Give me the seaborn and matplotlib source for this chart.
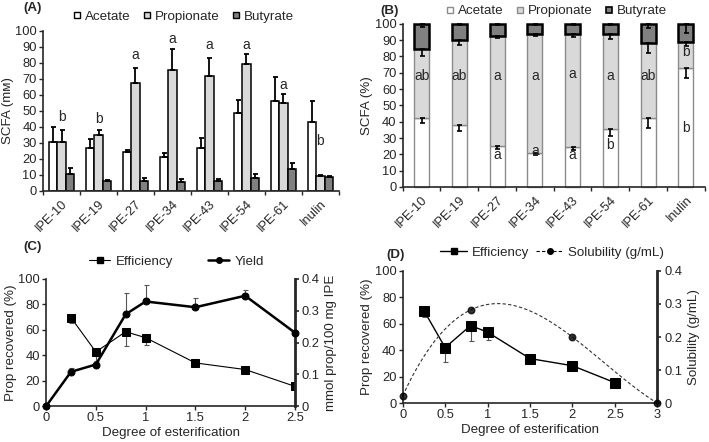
import numpy as np
import pandas as pd
import matplotlib
matplotlib.use("Agg")
import matplotlib.pyplot as plt
import seaborn as sns
from matplotlib.lines import Line2D
from matplotlib.ticker import MultipleLocator, FormatStrFormatter, FixedLocator

sns.set_style("ticks")
plt.rcParams["font.family"] = ["Liberation Sans", "DejaVu Sans"]
FS = 9.6
plt.rcParams["font.size"] = FS
plt.rcParams["xtick.labelsize"] = 9.3
plt.rcParams["ytick.labelsize"] = 9.3

# ---------------- data ----------------
categories = ["IPE-10", "IPE-19", "IPE-27", "IPE-34", "IPE-43", "IPE-54", "IPE-61", "Inulin"]
acids = ["Acetate", "Propionate", "Butyrate"]

# Panel A: SCFA concentration (mM), mean and upper error
acetate_mm = [30.8, 26.7, 24.2, 21.5, 27.0, 49.0, 56.0, 43.3]
acetate_mm_err = [9.4, 5.8, 1.4, 2.5, 6.3, 7.9, 15.5, 13.2]
propionate_mm = [30.4, 35.0, 67.3, 75.6, 72.0, 79.4, 55.2, 9.3]
propionate_mm_err = [7.7, 3.1, 9.7, 13.4, 11.3, 6.2, 5.2, 0.6]
butyrate_mm = [10.8, 6.4, 6.4, 5.8, 6.0, 8.3, 13.7, 8.8]
butyrate_mm_err = [3.4, 0.5, 1.5, 1.5, 1.3, 2.1, 3.6, 0.8]
letters_a = ["b", "b", "a", "a", "a", "a", "a", "b"]
letters_a_y = [46, 45, 85, 95, 91, 91, 66, 31]

# Panel B: SCFA proportions (%), lower error
acetate_pct = [42.1, 38.0, 25.2, 21.0, 24.7, 35.4, 42.1, 72.8]
acetate_pct_err = [3.1, 3.5, 1.9, 1.5, 1.8, 4.1, 6.1, 6.1]
propionate_pct = [42.6, 52.2, 67.6, 72.9, 69.2, 58.3, 46.1, 16.3]
propionate_pct_err = [4.3, 3.1, 1.6, 1.5, 1.8, 3.1, 6.2, 2.6]
butyrate_pct = [15.3, 9.8, 7.2, 6.1, 6.1, 6.3, 11.8, 10.9]
butyrate_pct_err = [2.0, 1.0, 1.0, 0.5, 0.5, 1.0, 2.5, 5.7]
letters_b_prop = ["ab", "ab", "a", "a", "a", "a", "ab", "b"]
letters_b_prop_y = [68, 68, 68, 68, 69, 68, 68, 83]
letters_b_acet = ["", "", "a", "a", "a", "b", "", "b"]
letters_b_acet_y = [0, 0, 19.6, 22.3, 19.6, 25.8, 0, 36]

# Panel C
des_eff = [0.25, 0.5, 0.8, 1.0, 1.5, 2.0, 2.5]
eff_c = [69.6, 42.7, 58.5, 53.8, 34.0, 28.8, 15.6]
eff_c_err = [4.4, 7.0, 11.0, 5.8, 1.5, 0.8, 0.5]
des_yield = [0, 0.25, 0.5, 0.8, 1.0, 1.5, 2.0, 2.5]
yield_c = [0, 0.108, 0.131, 0.289, 0.329, 0.311, 0.347, 0.231]
yield_c_err = [0, 0.012, 0.004, 0.066, 0.051, 0.028, 0.017, 0.004]

# Panel D
eff_d = [70.0, 42.0, 58.7, 53.7, 33.7, 28.3, 15.5]
eff_d_err = [4.5, 10.6, 11.4, 5.8, 2.2, 0.8, 0.5]
sol_x = [0, 0.8, 2.0, 3.0]
sol_y = [0.022, 0.282, 0.200, 0.0]

fill_colors = ["#ffffff", "#d9d9d9", "#808080"]

# ---------------- figure ----------------
fig = plt.figure(figsize=(7.09, 4.42), dpi=100)
axA = fig.add_axes([0.0607, 0.568, 0.478 - 0.0607, 0.930 - 0.568])
axB = fig.add_axes([0.568, 0.577, 0.994 - 0.568, 0.946 - 0.577])
axC = fig.add_axes([0.065, 0.081, 0.416 - 0.065, 0.369 - 0.081])
axD = fig.add_axes([0.568, 0.088, 0.927 - 0.568, 0.387 - 0.088])


def style_cat_axis(ax):
    ax.set_xlim(-0.5, len(categories) - 0.5)
    ax.set_ylim(0, 100)
    ax.yaxis.set_major_locator(MultipleLocator(10))
    ax.set_xticks(range(len(categories)))
    ax.set_xticklabels(categories, rotation=45, ha="right", rotation_mode="anchor")
    ax.xaxis.set_minor_locator(FixedLocator(np.arange(-0.5, len(categories), 1.0)))
    ax.tick_params(axis="x", which="major", length=0, pad=5)
    ax.tick_params(axis="x", which="minor", length=3, width=1)
    ax.tick_params(axis="y", length=3, width=1, pad=1.5)
    for s in ["top", "right"]:
        ax.spines[s].set_visible(False)
    for s in ["left", "bottom"]:
        ax.spines[s].set_linewidth(1.2)
    ax.set_xlabel("")


# ---- Panel A ----
dfA = pd.DataFrame({
    "cat": categories * 3,
    "acid": np.repeat(acids, len(categories)),
    "value": acetate_mm + propionate_mm + butyrate_mm,
})
sns.barplot(data=dfA, x="cat", y="value", hue="acid", hue_order=acids,
            palette=fill_colors, edgecolor="black", linewidth=1.1, width=0.68,
            errorbar=None, saturation=1, legend=False, ax=axA)
for cont, mean, err in zip(axA.containers, [acetate_mm, propionate_mm, butyrate_mm],
                           [acetate_mm_err, propionate_mm_err, butyrate_mm_err]):
    xs = [p.get_x() + p.get_width() / 2 for p in cont]
    axA.errorbar(xs, mean, yerr=[np.zeros(len(err)), err], fmt="none", ecolor="black",
                 elinewidth=1.3, capsize=1.8, capthick=1.3, zorder=3)
for i, (t, y) in enumerate(zip(letters_a, letters_a_y)):
    axA.text(i, y, t, ha="center", va="center", fontsize=FS + 0.4)
style_cat_axis(axA)
axA.set_ylabel("SCFA (mᴍ)", labelpad=1)
hA = [Line2D([], [], marker="s", ls="none", markersize=4.5, markerfacecolor=c,
             markeredgecolor="black", markeredgewidth=1) for c in fill_colors]
fig.legend(hA, acids, loc="center", bbox_to_anchor=(0.258, 0.962), ncol=3, frameon=False,
           handletextpad=0.2, columnspacing=0.8, fontsize=FS, handlelength=0.8)

# ---- Panel B (stacked) ----
bottoms_acet = np.zeros(len(categories))
bottoms_prop = np.array(acetate_pct)
bottoms_but = np.array(acetate_pct) + np.array(propionate_pct)
stack = [
    (acetate_pct, bottoms_acet, fill_colors[0], "#8c8c8c", 1.0),
    (propionate_pct, bottoms_prop, fill_colors[1], "#8c8c8c", 1.0),
    (butyrate_pct, bottoms_but, fill_colors[2], "black", 1.8),
]
for vals, bots, fc, ec, lw in stack:
    sns.barplot(x=categories, y=vals, color=fc, edgecolor=ec, linewidth=lw, width=0.4,
                errorbar=None, saturation=1, ax=axB)
    for p, b in zip(axB.containers[-1], bots):
        p.set_y(b)
        p.set_clip_on(False)
tops = [bottoms_prop, bottoms_but, bottoms_but + np.array(butyrate_pct)]
xsB = np.arange(len(categories))
for top, err in zip(tops, [acetate_pct_err, propionate_pct_err, butyrate_pct_err]):
    axB.errorbar(xsB, top, yerr=[err, np.zeros(len(err))], fmt="none", ecolor="black",
                 elinewidth=1.2, capsize=1.8, capthick=1.2, zorder=4, clip_on=False)
for i, (t, y) in enumerate(zip(letters_b_prop, letters_b_prop_y)):
    axB.text(i, y, t, ha="center", va="center", fontsize=FS + 0.4, zorder=5)
for i, (t, y) in enumerate(zip(letters_b_acet, letters_b_acet_y)):
    if t:
        axB.text(i, y, t, ha="center", va="center", fontsize=FS + 0.4, zorder=5)
style_cat_axis(axB)
axB.set_ylabel("SCFA (%)", labelpad=1)
hB = [Line2D([], [], marker="s", ls="none", markersize=4, markerfacecolor=fill_colors[0],
             markeredgecolor="#8c8c8c", markeredgewidth=1),
      Line2D([], [], marker="s", ls="none", markersize=4, markerfacecolor=fill_colors[1],
             markeredgecolor="#8c8c8c", markeredgewidth=1),
      Line2D([], [], marker="s", ls="none", markersize=4.5, markerfacecolor=fill_colors[2],
             markeredgecolor="black", markeredgewidth=1.2)]
fig.legend(hB, acids, loc="center", bbox_to_anchor=(0.784, 0.975), ncol=3, frameon=False,
           handletextpad=0.2, columnspacing=0.8, fontsize=FS, handlelength=0.8)


def style_line_axes(ax, ax2, xmax):
    ax.set_xlim(0, xmax)
    ax.set_ylim(0, 100)
    ax.yaxis.set_major_locator(MultipleLocator(20))
    ax.xaxis.set_major_locator(MultipleLocator(0.5))
    ax.xaxis.set_major_formatter(FormatStrFormatter("%g"))
    ax2.set_ylim(0, 0.4)
    ax2.yaxis.set_major_locator(MultipleLocator(0.1))
    ax2.yaxis.set_major_formatter(FormatStrFormatter("%g"))
    ax.tick_params(length=3, width=1, pad=1.5)
    ax2.tick_params(length=3, width=1.2, pad=2)
    ax.spines["top"].set_visible(False)
    ax.spines["right"].set_visible(False)
    ax2.spines["top"].set_visible(False)
    ax2.spines["left"].set_visible(False)
    ax2.spines["bottom"].set_visible(False)
    ax.spines["left"].set_linewidth(1.2)
    ax.spines["bottom"].set_linewidth(1.2)
    ax2.spines["right"].set_linewidth(2)
    ax.set_xlabel("Degree of esterification", labelpad=2)


# ---- Panel C ----
axC2 = axC.twinx()
axC.errorbar(des_eff, eff_c, yerr=[eff_c_err, np.zeros(len(eff_c_err))], fmt="none",
             ecolor="#555555", elinewidth=0.8, capsize=1.8, capthick=0.8, zorder=2)
sns.lineplot(x=des_eff, y=eff_c, color="black", lw=0.8, marker="s", markersize=6,
             markeredgecolor="black", ax=axC, zorder=3)
axC2.errorbar(des_yield, yield_c, yerr=[np.zeros(len(yield_c_err)), yield_c_err], fmt="none",
              ecolor="#555555", elinewidth=0.8, capsize=1.8, capthick=0.8, zorder=2)
sns.lineplot(x=des_yield, y=yield_c, color="black", lw=1.8, marker="o", markersize=5,
             markeredgecolor="black", ax=axC2, zorder=3, clip_on=False)
style_line_axes(axC, axC2, 2.5)
axC.set_ylabel("Prop recovered (%)", labelpad=1)
axC2.set_ylabel("mmol prop/100 mg IPE", labelpad=4)
hC = [Line2D([], [], color="black", lw=0.8, marker="s", markersize=5),
      Line2D([], [], color="black", lw=1.8, marker="o", markersize=4)]
fig.legend(hC, ["Efficiency", "Yield"], loc="center", bbox_to_anchor=(0.249, 0.408), ncol=2,
           frameon=False, handletextpad=0.4, columnspacing=2.6, fontsize=FS, handlelength=1.6)

# ---- Panel D ----
axD2 = axD.twinx()
axD.errorbar(des_eff, eff_d, yerr=[eff_d_err, np.zeros(len(eff_d_err))], fmt="none",
             ecolor="#555555", elinewidth=0.8, capsize=1.8, capthick=0.8, zorder=2)
sns.lineplot(x=des_eff, y=eff_d, color="black", lw=1.0, marker="s", markersize=7,
             markeredgecolor="black", ax=axD, zorder=3)
sns.regplot(x=sol_x, y=sol_y, order=3, ci=None, ax=axD2, color="black",
            scatter_kws=dict(s=22, clip_on=False, zorder=4),
            line_kws=dict(lw=0.8, ls=(0, (3, 2)), color="#333333"))
style_line_axes(axD, axD2, 3.0)
axD.set_ylabel("Prop recovered (%)", labelpad=1)
axD2.set_ylabel("Solubility (g/mL)", labelpad=4)
hD = [Line2D([], [], color="black", lw=1.0, marker="s", markersize=5),
      Line2D([], [], color="black", lw=0.8, ls=(0, (3, 2)), marker="o", markersize=4)]
fig.legend(hD, ["Efficiency", "Solubility (g/mL)"], loc="center", bbox_to_anchor=(0.779, 0.429),
           ncol=2, frameon=False, handletextpad=0.4, columnspacing=0.5, fontsize=FS,
           handlelength=2.0)

# panel letters
fig.text(0.033, 0.981, "(A)", fontweight="bold", fontsize=FS, va="center")
fig.text(0.537, 0.975, "(B)", fontweight="bold", fontsize=FS, va="center")
fig.text(0.033, 0.442, "(C)", fontweight="bold", fontsize=FS, va="center")
fig.text(0.545, 0.423, "(D)", fontweight="bold", fontsize=FS, va="center")

fig.savefig("out.png", dpi=100)
